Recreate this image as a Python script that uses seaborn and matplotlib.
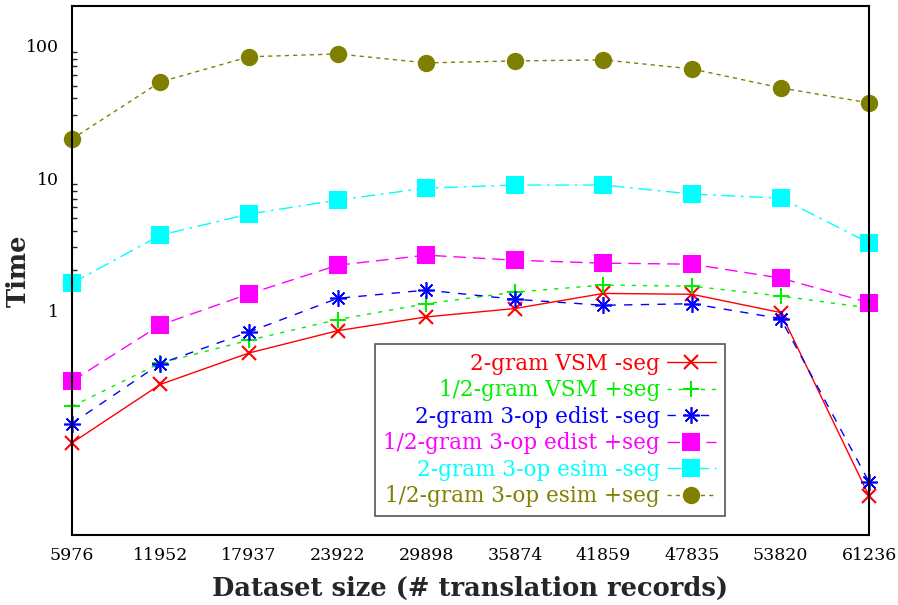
import numpy as np
import pandas as pd
import matplotlib
matplotlib.use("Agg")
import matplotlib.pyplot as plt
import seaborn as sns
from matplotlib.ticker import FixedLocator, NullFormatter

# ======= DATA =======
sizes = ["5976", "11952", "17937", "23922", "29898",
         "35874", "41859", "47835", "53820", "61236"]
vsm_2gram = [0.099, 0.275, 0.475, 0.70, 0.89, 1.03, 1.34, 1.32, 0.96, 0.039]
vsm_12gram = [0.187, 0.399, 0.593, 0.85, 1.12, 1.37, 1.55, 1.52, 1.28, 1.04]
edist_2gram = [0.139, 0.395, 0.685, 1.23, 1.42, 1.21, 1.09, 1.12, 0.865, 0.050]
edist_12gram = [0.291, 0.774, 1.33, 2.19, 2.61, 2.39, 2.27, 2.23, 1.75, 1.14]
esim_2gram = [1.60, 3.70, 5.34, 6.81, 8.40, 8.85, 8.85, 7.56, 7.05, 3.22]
esim_12gram = [19.7, 53.4, 82.6, 86.9, 74.3, 76.9, 78.3, 66.9, 48.1, 37.0]
labels = ["2-gram VSM -seg", "1/2-gram VSM +seg", "2-gram 3-op edist -seg",
          "1/2-gram 3-op edist +seg", "2-gram 3-op esim -seg",
          "1/2-gram 3-op esim +seg"]
# ====================

sns.set_theme(style="white")
plt.rcParams['font.family'] = ['DejaVu Serif']

series = [vsm_2gram, vsm_12gram, edist_2gram, edist_12gram, esim_2gram, esim_12gram]
colors = ["#ff0000", "#00ee00", "#0000ff", "#ff00ff", "#00ffff", "#808000"]
markers = ["x", "+", (8, 2, 0), "s", "s", "o"]
msizes = [10, 11, 12, 11, 11, 11]
mew = [1.5, 1.5, 1.2, 1.5, 1.5, 1.5]
dashes = ["-", (0, (3, 5)), (0, (6, 6)), (0, (9, 5)), (0, (10, 4, 2, 4)), (0, (3, 3))]

fig, ax = plt.subplots(figsize=(8.98, 6.05), dpi=100)
fig.subplots_adjust(left=0.080, right=0.968, top=0.990, bottom=0.116)

pos = np.arange(len(sizes))
for vals, lab, c, m, ms, ew, ls in zip(series, labels, colors, markers, msizes, mew, dashes):
    sns.lineplot(x=pos, y=vals, ax=ax, color=c, marker=m, markersize=ms,
                 linestyle=ls, linewidth=1.0, label=lab,
                 markeredgecolor=c, markeredgewidth=ew, clip_on=False)

ax.set_yscale("log")
ax.set_ylim(0.02, 200)
ax.set_xlim(0, len(sizes) - 1)
ax.set_xticks(pos)
ax.set_xticklabels(sizes)
ax.yaxis.set_major_locator(FixedLocator([1, 10, 100]))
ax.set_yticklabels(["1", "10", "100"])
minor = [k * d for d in (1, 10) for k in range(2, 10)]
ax.yaxis.set_minor_locator(FixedLocator(minor))
ax.yaxis.set_minor_formatter(NullFormatter())

ax.tick_params(axis="both", which="major", direction="in", length=7, width=1.2,
               labelsize=12.5, colors="black", pad=9)
ax.tick_params(axis="y", which="minor", direction="in", length=3.5, width=1.0, left=True)
ax.tick_params(top=False, right=False)
for s in ax.spines.values():
    s.set_color("black")
    s.set_linewidth(1.5)

ax.set_xlabel("Dataset size (# translation records)", fontsize=18.5, fontweight="bold", labelpad=8)
ax.set_ylabel("Time", fontsize=18.5, fontweight="bold")
ax.yaxis.set_label_coords(-0.052, 0.5)

leg = ax.legend(loc="lower left", bbox_to_anchor=(0.380, 0.036), borderaxespad=0,
                markerfirst=False, fontsize=15.5, labelcolor="linecolor", frameon=True,
                fancybox=False, edgecolor="#555555", framealpha=1, handlelength=2.3,
                labelspacing=0.21, borderpad=0.4, handletextpad=0.3)
leg.get_frame().set_linewidth(1.2)
# right-align legend rows like the original
for col in leg._legend_handle_box.get_children():
    col.align = "right"

plt.savefig("out.png", dpi=100)
